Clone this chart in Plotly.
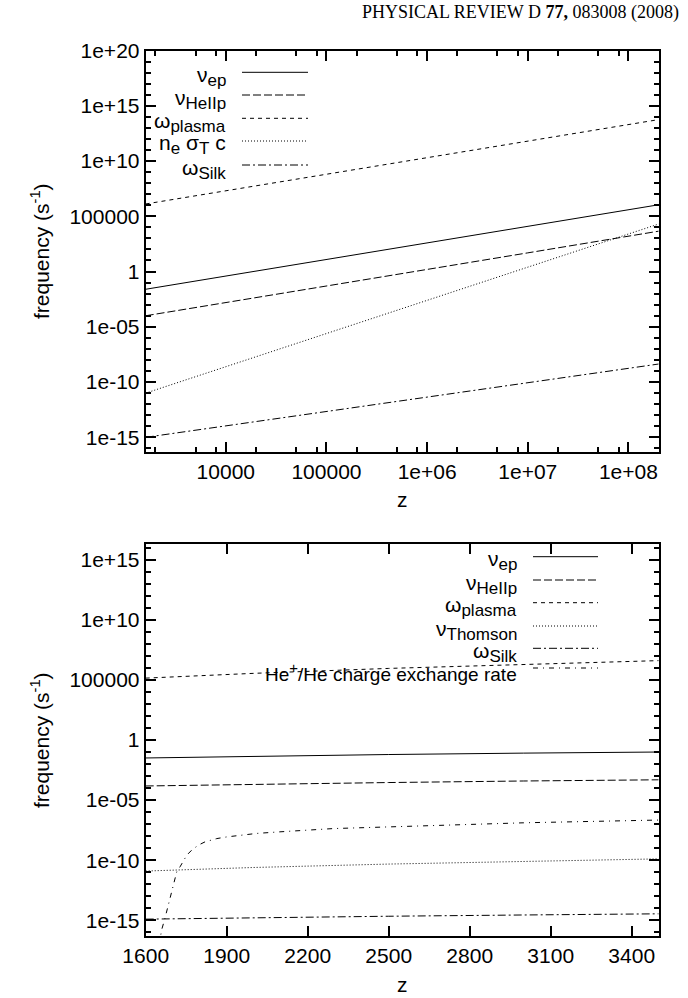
import plotly.graph_objects as go

# ---------------- data ----------------
z_top = [1600, 1e4, 1e5, 1e6, 1e7, 1e8, 2e8]
nu_ep_top = [0.025, 0.39, 12, 390, 1.2e4, 3.9e5, 1.1e6]
nu_heiip_top = [1e-4, 1.5e-3, 0.049, 1.55, 49, 1550, 4500]
omega_plasma_top = [1.3e6, 2e7, 6.2e8, 2e10, 6.2e11, 2e13, 5.6e13]
thomson_top = [1e-11, 2.5e-9, 2.5e-6, 2.5e-3, 2.5, 2500, 2e4]
silk_top = [1e-15, 1.1e-14, 2.1e-13, 4.3e-12, 8.7e-11, 1.7e-9, 4.3e-9]

z_bot = [1600, 2000, 2500, 3000, 3500]
nu_ep_bot = [0.032, 0.044, 0.062, 0.081, 0.10]
nu_heiip_bot = [1.5e-4, 2.1e-4, 2.9e-4, 3.9e-4, 4.9e-4]
omega_plasma_bot = [1.4e5, 3.5e5, 9e5, 2e6, 4e6]
thomson_bot = [1.26e-11, 2.5e-11, 4.8e-11, 8.3e-11, 1.3e-10]
silk_bot = [1.26e-15, 1.7e-15, 2.2e-15, 2.8e-15, 3.5e-15]

z_cx = [1650, 1659, 1671, 1684, 1696, 1702, 1715, 1727, 1739, 1752, 1770, 1795,
        1820, 1863, 1900, 1949, 2011, 2097, 2196, 2295, 2540, 3000, 3500]
cx_rate = [1e-17, 1.6e-16, 1.4e-15, 1.8e-14, 2.3e-13, 8.3e-13, 1.1e-11, 2.8e-11,
           7.4e-11, 2.6e-10, 6.8e-10, 1.8e-9, 3.4e-9, 6.3e-9, 8.7e-9, 1.2e-8,
           1.7e-8, 2.3e-8, 3.1e-8, 4.3e-8, 6.3e-8, 1.3e-7, 2.2e-7]

SUB = '<sub><span style="font-size:17px">%s</span></sub>'
top_labels = ["ν" + SUB % "ep", "ν" + SUB % "HeIIp", "ω" + SUB % "plasma",
              "n" + SUB % "e" + " σ" + SUB % "T" + " c", "ω" + SUB % "Silk"]
bot_labels = ["ν" + SUB % "ep", "ν" + SUB % "HeIIp", "ω" + SUB % "plasma",
              "ν" + SUB % "Thomson", "ω" + SUB % "Silk",
              '<span style="font-size:19px">He<sup><span style="font-size:15px">+</span></sup>'
              '/He charge exchange rate</span>']

y_major_vals = [1e20, 1e15, 1e10, 1e5, 1, 1e-5, 1e-10, 1e-15]
y_major_text = ["1e+20", "1e+15", "1e+10", "100000", "1", "1e-05", "1e-10", "1e-15"]
x_top_vals = [1e4, 1e5, 1e6, 1e7, 1e8]
x_top_text = ["10000", "100000", "1e+06", "1e+07", "1e+08"]
x_bot_vals = [1600, 1900, 2200, 2500, 2800, 3100, 3400]

# ---------------- styles ----------------
W, H = 688, 998
dashes = ["solid", "8px,3px", "4px,4px", "1px,2px", "8px,3px,2px,3px", "5px,5px,1px,5px"]
FONT = "Liberation Sans, Arial, Helvetica, sans-serif"

def px(x):
    return x / W

def py(y):
    return 1 - y / H

fig = go.Figure()

top_series = [nu_ep_top, nu_heiip_top, omega_plasma_top, thomson_top, silk_top]
for i, s in enumerate(top_series):
    fig.add_trace(go.Scatter(x=z_top, y=s, mode="lines", xaxis="x", yaxis="y",
                             line=dict(color="black", width=1, dash=dashes[i]),
                             showlegend=False, hoverinfo="skip"))

bot_series = [nu_ep_bot, nu_heiip_bot, omega_plasma_bot, thomson_bot, silk_bot]
for i, s in enumerate(bot_series):
    fig.add_trace(go.Scatter(x=z_bot, y=s, mode="lines", xaxis="x2", yaxis="y2",
                             line=dict(color="black", width=1, dash=dashes[i]),
                             showlegend=False, hoverinfo="skip"))
fig.add_trace(go.Scatter(x=z_cx, y=cx_rate, mode="lines", xaxis="x2", yaxis="y2",
                         line=dict(color="black", width=1, dash=dashes[5]),
                         showlegend=False, hoverinfo="skip"))

# minor tick positions
y_minor = [10.0 ** k for k in range(-17, 21)]
x_top_minor = [m * 10.0 ** k for k in range(3, 9) for m in (2, 5, 8)]

axis_common = dict(showline=True, linecolor="black", linewidth=2, mirror="allticks",
                   ticks="inside", tickcolor="black", tickwidth=1.5, ticklen=10,
                   showgrid=False, zeroline=False, automargin=False,
                   tickfont=dict(family=FONT, size=21, color="black"))

top_dom_y = [py(451.7), py(50.5)]
bot_dom_y = [py(936), py(544)]
dom_x = [px(145.7), px(658.7)]

fig.update_layout(
    template="none",
    width=W, height=H, margin=dict(l=0, r=0, t=0, b=0, pad=0),
    paper_bgcolor="white", plot_bgcolor="white", showlegend=False,
    xaxis=dict(type="log", domain=dom_x, anchor="y", range=[3.2041, 8.3010],
               tickmode="array", tickvals=x_top_vals, ticktext=x_top_text,
               minor=dict(tickmode="array", tickvals=x_top_minor, ticks="inside", ticklen=5,
                          tickcolor="black", tickwidth=1.5, showgrid=False),
               **axis_common),
    yaxis=dict(type="log", domain=top_dom_y, anchor="x", range=[-16.301, 20],
               tickmode="array", tickvals=y_major_vals, ticktext=y_major_text,
               minor=dict(tickmode="array", tickvals=y_minor, ticks="inside", ticklen=5,
                          tickcolor="black", tickwidth=1.5, showgrid=False),
               **axis_common),
    xaxis2=dict(type="linear", domain=dom_x, anchor="y2", range=[1600, 3500],
                tickmode="array", tickvals=x_bot_vals,
                ticktext=[str(v) for v in x_bot_vals],
                **axis_common),
    yaxis2=dict(type="log", domain=bot_dom_y, anchor="x2", range=[-16.301, 16.301],
                tickmode="array", tickvals=y_major_vals[1:], ticktext=y_major_text[1:],
                minor=dict(tickmode="array", tickvals=y_minor, ticks="inside", ticklen=5,
                           tickcolor="black", tickwidth=1.5, showgrid=False),
                **axis_common),
)

annotations = []
shapes = []

# header
annotations.append(dict(x=px(681), y=py(13), xref="paper", yref="paper",
                         xanchor="right", yanchor="middle", showarrow=False,
                         text="PHYSICAL REVIEW D <b>77,</b> 083008 (2008)",
                         font=dict(family="Liberation Serif, Times New Roman, serif",
                                   size=18, color="black")))

# axis titles
for yc in (251, 740):
    annotations.append(dict(x=px(40), y=py(yc), xref="paper", yref="paper",
                             xanchor="center", yanchor="middle", showarrow=False,
                             textangle=-90, text="frequency (s<sup>-1</sup>)",
                             font=dict(family=FONT, size=21, color="black")))
for yc in (500, 984):
    annotations.append(dict(x=px(402), y=py(yc), xref="paper", yref="paper",
                             xanchor="center", yanchor="middle", showarrow=False,
                             text="z", font=dict(family=FONT, size=21, color="black")))

def add_key(labels, text_right, x0, x1, rows):
    for i, (lab, yr) in enumerate(zip(labels, rows)):
        annotations.append(dict(x=px(text_right), y=py(yr + 4), xref="paper", yref="paper",
                                 xanchor="right", yanchor="middle", showarrow=False,
                                 text=lab, font=dict(family=FONT, size=21, color="black")))
        shapes.append(dict(type="line", xref="paper", yref="paper",
                           x0=px(x0), x1=px(x1), y0=py(yr), y1=py(yr),
                           line=dict(color="black", width=1, dash=dashes[i])))

add_key(top_labels, 228, 242, 308, [72.3, 95, 118.3, 141, 165])
add_key(bot_labels, 519, 533, 598, [556.7, 580, 602.7, 626, 648.3, 668])

fig.update_layout(annotations=annotations, shapes=shapes)
fig.write_html("out.html", config={"displayModeBar": False},
               post_script="document.body.style.margin='0px';")
